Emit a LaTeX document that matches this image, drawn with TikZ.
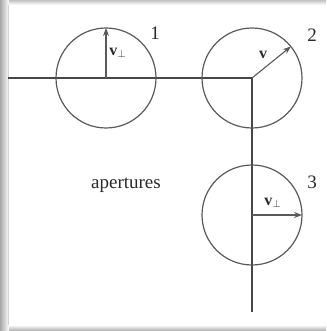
\documentclass[tikz,border=0pt]{standalone}
\usepackage{fontspec}
\setmainfont{Liberation Serif}
\usepackage{xcolor}
\usetikzlibrary{arrows.meta,positioning}
\definecolor{wallgray}{HTML}{474747}
\definecolor{ringgray}{HTML}{5A5A5A}
\definecolor{shadegray}{HTML}{A8A8A8}
\definecolor{inkgray}{HTML}{2A2A2A}
\tikzset{
  wallline/.style={draw=wallgray,line width=2pt},
  aperture/.style={circle,draw=ringgray,line width=1.2pt,minimum size=100pt,inner sep=0pt,outer sep=0pt},
  velarrow/.style={-{Stealth[length=8pt,width=6pt]},draw=ringgray,line width=1.1pt},
  numlabel/.style={font=\fontsize{19}{21}\selectfont,text=inkgray,inner sep=0pt},
  vlabel/.style={font=\fontsize{16}{18}\selectfont,text=inkgray,inner sep=0pt},
}
\begin{document}
\begin{tikzpicture}[x=1pt,y=-1pt]
    \useasboundingbox (0,0) rectangle (326,331);
    % frame with a soft shadow
    \fill[white] (0,0) rectangle (326,331);
    \shade[left color=shadegray,right color=white] (0,0) rectangle (9,331);
    \shade[top color=shadegray!70,bottom color=white] (9,0) rectangle (326,5);
    \shade[top color=white,bottom color=shadegray] (9,325) rectangle (326,331);
    \draw[shadegray!50,line width=0.6pt] (8.5,5) -- (8.5,325);
    % walls
    \coordinate (wallend) at (8,78);
    \coordinate (corner) at (252,78);
    \coordinate (wallfoot) at (252,312);
    \draw[wallline] (wallend)--(corner)--(wallfoot);
    % apertures
    \node[aperture] (c1) at (106,78) {};
    \node[aperture] (c2) at (corner) {};
    \node[aperture] (c3) at (252,215) {};
    \node[numlabel] (n1) at (155,33) {1};
    \node[numlabel] (n2) at (312,35) {2};
    \node[numlabel] (n3) at (312,182) {3};
    \node[font=\fontsize{19}{21}\selectfont,text=inkgray] (ap) at (126,185) {apertures};
    % velocities
    \draw[velarrow] (c1.center)--(c1.north);
    \draw[velarrow] (c2.center)--(c2.39);
    \draw[velarrow] (c3.center)--(c3.east);
    \node[vlabel] (v1) at (118,53) {$\mathbf{v}_{\perp}$};
    \node[vlabel] (v2) at (263,55) {$\mathbf{v}$};
    \node[vlabel] (v3) at (273,203) {$\mathbf{v}_{\perp}$};
  \end{tikzpicture}
\end{document}
